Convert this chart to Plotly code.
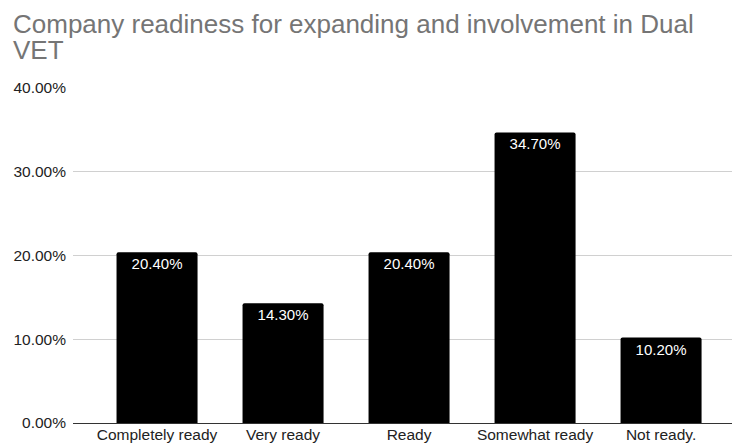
import plotly.graph_objects as go

categories = ["Completely ready", "Very ready", "Ready", "Somewhat ready", "Not ready."]
values = [0.204, 0.143, 0.204, 0.347, 0.102]
y_ticks = [0.0, 0.1, 0.2, 0.3, 0.4]
title_lines = ["Company readiness for expanding and involvement in Dual", "VET"]

W, H = 732, 448
L, R, T, B = 73, 0, 88, 25
PW, PH = W - L - R, H - T - B


def px_x(x):
    return (x - L) / PW


def px_y(y):
    return 1 - (y - T) / PH


FONT = "Arial, Liberation Sans, sans-serif"

fig = go.Figure(
    go.Bar(
        x=categories,
        y=values,
        width=0.643,
        marker=dict(color="#000000", line=dict(width=0)),
        texttemplate="%{y:.2%}",
        textposition="inside",
        insidetextanchor="end",
        textfont=dict(color="#ffffff", size=15, family=FONT),
        hoverinfo="skip",
    )
)

for i, line in enumerate(title_lines):
    fig.add_annotation(
        text=line,
        xref="paper",
        yref="paper",
        x=px_x(11),
        y=px_y(7 + 26 * i),
        xanchor="left",
        yanchor="top",
        showarrow=False,
        font=dict(family=FONT, size=26, color="#757575"),
    )

fig.update_layout(
    width=W,
    height=H,
    margin=dict(l=L, r=R, t=T, b=B),
    paper_bgcolor="#ffffff",
    plot_bgcolor="#ffffff",
    barcornerradius=2,
    showlegend=False,
    xaxis=dict(
        range=[-0.667, 4.563],
        showgrid=False,
        showline=False,
        ticks="",
        tickfont=dict(family=FONT, size=15.5, color="#222222"),
        fixedrange=True,
    ),
    yaxis=dict(
        range=[0, 0.4],
        tickvals=y_ticks,
        tickformat=".2%",
        showgrid=True,
        gridcolor="#d0d0d0",
        gridwidth=1,
        zeroline=True,
        zerolinecolor="#333333",
        zerolinewidth=1,
        showline=False,
        ticks="",
        ticklabelstandoff=6,
        tickfont=dict(family=FONT, size=15.5, color="#222222"),
        fixedrange=True,
    ),
)

fig.write_html("out.html")
